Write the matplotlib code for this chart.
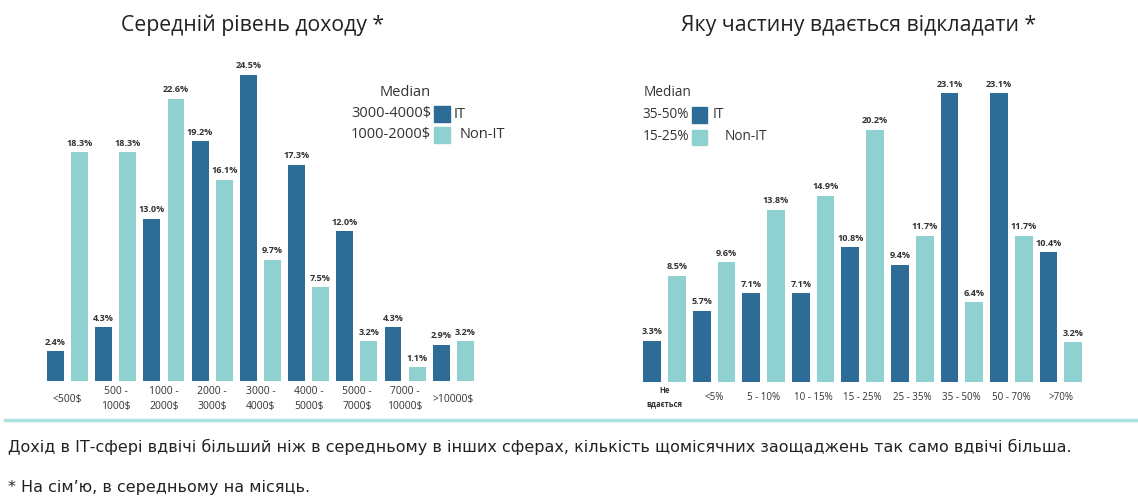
import matplotlib.pyplot as plt
from matplotlib.patches import Rectangle
import numpy as np

# income chart
income_cats = ['<500$', '500 -\n1000$', '1000 -\n2000$', '2000 -\n3000$', '3000 -\n4000$',
               '4000 -\n5000$', '5000 -\n7000$', '7000 -\n10000$', '>10000$']
income_it = [2.4, 4.3, 13.0, 19.2, 24.5, 17.3, 12.0, 4.3, 2.9]
income_nonit = [18.3, 18.3, 22.6, 16.1, 9.7, 7.5, 3.2, 1.1, 3.2]

# savings chart
save_cats = ['Не\nвдається', '<5%', '5 - 10%', '10 - 15%', '15 - 25%',
             '25 - 35%', '35 - 50%', '50 - 70%', '>70%']
save_it = [3.3, 5.7, 7.1, 7.1, 10.8, 9.4, 23.1, 23.1, 10.4]
save_nonit = [8.5, 9.6, 13.8, 14.9, 20.2, 11.7, 6.4, 11.7, 3.2]

IT_COLOR = '#2c6c97'
NONIT_COLOR = '#8fd0d1'
TEXT = '#333333'

W, H = 1138, 499
fig = plt.figure(figsize=(W / 100, H / 100), dpi=100)
plt.rcParams['font.family'] = ['Open Sans', 'DejaVu Sans']


def fx(x):
    return x / W


def fy(y):
    return 1 - y / H


def draw(ax, cats, it, nonit, width):
    x = np.arange(len(cats))
    b1 = ax.bar(x - 0.25, it, width, color=IT_COLOR)
    b2 = ax.bar(x + 0.25, nonit, width, color=NONIT_COLOR)
    for bars in (b1, b2):
        for r in bars:
            ax.text(r.get_x() + r.get_width() / 2, r.get_height() + 0.35,
                    f'{r.get_height():.1f}%', ha='center', va='bottom',
                    fontsize=6.6, fontweight='bold', color=TEXT)
    ax.set_xlim(-0.5, len(cats) - 0.5)
    ax.set_ylim(0, 26)
    ax.set_yticks([])
    ax.set_xticks(x)
    for s in ax.spines.values():
        s.set_visible(False)


ax1 = fig.add_axes([fx(43.4), fy(381), fx(434), (381 - 56) / H])
draw(ax1, income_cats, income_it, income_nonit, 0.35)
ax1.set_xticklabels(income_cats, fontsize=7.5, color=TEXT, linespacing=1.5, va='center')
ax1.tick_params(axis='x', length=0, pad=13)

ax2 = fig.add_axes([fx(639.7), fy(382), fx(446), (382 - 57) / H])
draw(ax2, save_cats, save_it, save_nonit, 0.36)
ax2.set_xticklabels(save_cats, fontsize=7, color=TEXT, va='center')
ax2.tick_params(axis='x', length=0, pad=11)
lbls = ax2.get_xticklabels()
lbls[0].set_fontsize(5.5)
lbls[0].set_fontweight('bold')
lbls[0].set_linespacing(1.7)

# titles
fig.text(fx(253), fy(25), 'Середній рівень доходу *', ha='center', va='center',
         fontsize=15.3, color='#222222')
fig.text(fx(859), fy(25), 'Яку частину вдається відкладати *', ha='center', va='center',
         fontsize=15.3, color='#222222')


def legend(x_med, y_med, x_sq, rows, fs, sq):
    fig.text(fx(x_med), fy(y_med), 'Median', ha='left', va='center', fontsize=fs, color=TEXT)
    for y, val, name, col, off in rows:
        fig.text(fx(x_sq - 3), fy(y), val, ha='right', va='center', fontsize=fs, color=TEXT)
        fig.add_artist(Rectangle((fx(x_sq), fy(y + sq / 2)), fx(sq), sq / H,
                                 transform=fig.transFigure, color=col))
        fig.text(fx(x_sq + off), fy(y), name, ha='left', va='center', fontsize=fs, color=TEXT)


legend(380, 93, 434, [(114, '3000-4000$', 'IT', IT_COLOR, 20),
                      (135, '1000-2000$', 'Non-IT', NONIT_COLOR, 26)], 10.5, 16)
legend(644, 93, 692, [(115, '35-50%', 'IT', IT_COLOR, 21),
                      (137, '15-25%', 'Non-IT', NONIT_COLOR, 33)], 9.8, 15)

# separator line
fig.add_artist(plt.Line2D([fx(5), 1], [fy(420), fy(420)], transform=fig.transFigure,
                          color='#ade1e1', lw=2.5))

foot_font = ['Liberation Sans Narrow', 'DejaVu Sans']
fig.text(fx(8), fy(447), 'Дохід в ІТ-сфері вдвічі більший ніж в середньому в інших сферах, '
         'кількість щомісячних заощаджень так само вдвічі більша.',
         ha='left', va='center', fontsize=11.5, color='#222222', family=foot_font)
fig.text(fx(8), fy(487), '* На сім\u2019ю, в середньому на місяць.',
         ha='left', va='center', fontsize=11.5, color='#222222', family=foot_font)

plt.savefig('out.png', dpi=100, facecolor='white')
